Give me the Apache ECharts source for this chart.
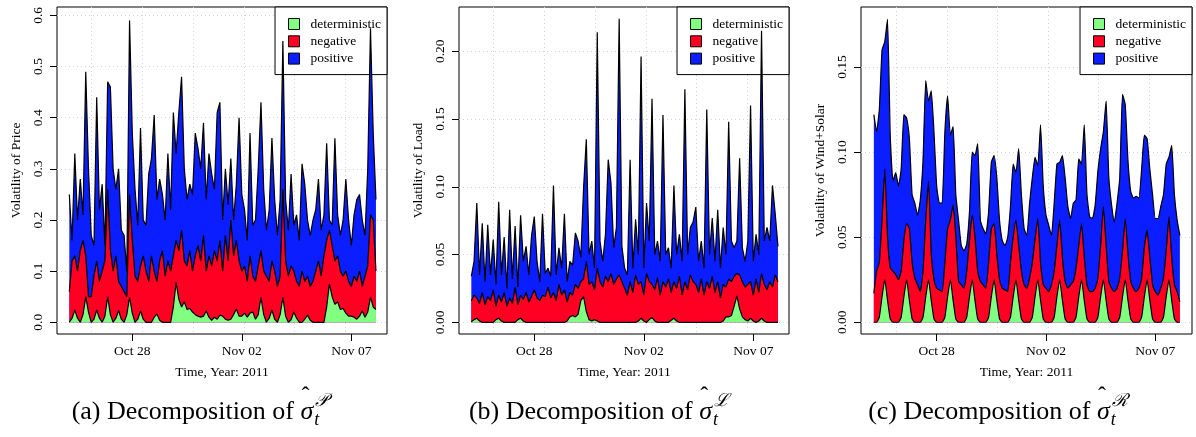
<!DOCTYPE html>
<html>
<head>
<meta charset="utf-8">
<script src="https://cdn.jsdelivr.net/npm/echarts@6/dist/echarts.min.js"></script>
<style>
html, body { margin: 0; padding: 0; background: #fff; }
#chart { width: 1196px; height: 437px; }
</style>
</head>
<body>
<div id="chart"></div>
<script>
// time axis: hours after Oct 28 2011 00:00, one sample every 3 hours
const startHour = -69
const stepHours = 3
const dateTicks = [0, 120, 240]
const dateLabels = ['Oct 28', 'Nov 02', 'Nov 07']
// dotted grid lines of R grid(): multiples of 200000 s
const gridHours = [-44.44, 11.11, 66.67, 122.22, 177.78, 233.33]

const layerNames = ['deterministic', 'negative', 'positive']
const layerColors = ['#80FF80', '#FF0022', '#0A1EFF']

// (a) price
const priceDet = [
  0, 0.008, 0.024, 0.008, 0, 0.015, 0.05, 0.02, 0, 0.006,
  0.024, 0.008, 0, 0.012, 0.05, 0.015, 0, 0.008, 0.023, 0.006,
  0, 0.015, 0.049, 0.018, 0, 0.006, 0.022, 0.006, 0, 0,
  0, 0.01, 0.016, 0.004, 0, 0, 0, 0, 0.03, 0.078,
  0.045, 0.03, 0.04, 0.025, 0.027, 0.02, 0.015, 0.012, 0.01, 0.012,
  0.022, 0.01, 0.004, 0.01, 0.006, 0.014, 0.012, 0.006, 0.004, 0.006,
  0.015, 0.026, 0.012, 0.012, 0.018, 0.01, 0.018, 0.02, 0.006, 0.015,
  0.049, 0.015, 0, 0.008, 0.024, 0.006, 0, 0.015, 0.049, 0.012,
  0, 0.005, 0.02, 0.008, 0, 0, 0.006, 0.014, 0.004, 0,
  0, 0, 0, 0, 0.03, 0.075, 0.05, 0.035, 0.04, 0.025,
  0.027, 0.018, 0.012, 0.012, 0.01, 0.006, 0.012, 0.022, 0.01, 0.02,
  0.049, 0.03, 0.025
]
const priceNeg = [
  0.06, 0.112, 0.106, 0.092, 0.14, 0.145, 0.08, 0.03, 0.05, 0.084,
  0.096, 0.072, 0.10, 0.108, 0.21, 0.125, 0.10, 0.122, 0.057, 0.064,
  0.06, 0.035, 0.201, 0.142, 0.09, 0.074, 0.088, 0.124, 0.10, 0.08,
  0.13, 0.09, 0.064, 0.116, 0.14, 0.09, 0.12, 0.10, 0.10, 0.082,
  0.095, 0.15, 0.08, 0.085, 0.113, 0.08, 0.115, 0.138, 0.11, 0.158,
  0.078, 0.12, 0.106, 0.13, 0.114, 0.146, 0.088, 0.164, 0.116, 0.194,
  0.115, 0.134, 0.108, 0.088, 0.092, 0.07, 0.112, 0.07, 0.074, 0.095,
  0.091, 0.085, 0.09, 0.072, 0.096, 0.094, 0.07, 0.075, 0.211, 0.108,
  0.09, 0.105, 0.08, 0.072, 0.07, 0.10, 0.074, 0.076, 0.066, 0.08,
  0.10, 0.12, 0.09, 0.13, 0.13, 0.105, 0.10, 0.085, 0.09, 0.075,
  0.063, 0.082, 0.068, 0.058, 0.08, 0.074, 0.088, 0.048, 0.08, 0.09,
  0.161, 0.17, 0.075
]
const pricePos = [
  0.19, 0.04, 0.20, 0.10, 0.14, 0.05, 0.36, 0.25, 0.12, 0.06,
  0.32, 0.14, 0.17, 0.03, 0.21, 0.32, 0.20, 0.13, 0.22, 0.11,
  0.11, 0.05, 0.34, 0.21, 0.17, 0.11, 0.27, 0.07, 0.09, 0.21,
  0.19, 0.305, 0.16, 0.16, 0.11, 0.11, 0.21, 0.12, 0.28, 0.17,
  0.27, 0.30, 0.18, 0.13, 0.13, 0.15, 0.24, 0.19, 0.18, 0.22,
  0.14, 0.20, 0.18, 0.12, 0.29, 0.27, 0.10, 0.13, 0.11, 0.12,
  0.07, 0.11, 0.28, 0.15, 0.11, 0.08, 0.24, 0.10, 0.12, 0.19,
  0.29, 0.16, 0.09, 0.14, 0.24, 0.14, 0.10, 0.15, 0.29, 0.12,
  0.09, 0.18, 0.09, 0.13, 0.09, 0.21, 0.19, 0.11, 0.10, 0.12,
  0.12, 0.16, 0.09, 0.08, 0.19, 0.02, 0.04, 0.24, 0.08, 0.07,
  0.11, 0.18, 0.12, 0.08, 0.12, 0.16, 0.15, 0.13, 0.08, 0.19,
  0.365, 0.17, 0.14
]

// (b) load
const loadDet = [
  0.0005, 0.002, 0.003, 0.001, 0, 0, 0, 0, 0, 0.002,
  0.003, 0.001, 0, 0, 0, 0, 0, 0.002, 0.003, 0.001,
  0, 0, 0, 0, 0, 0, 0, 0, 0, 0,
  0, 0, 0, 0, 0, 0.001, 0.004, 0.005, 0.004, 0.006,
  0.016, 0.019, 0.008, 0.002, 0.001, 0.002, 0.001, 0, 0, 0,
  0, 0, 0, 0, 0, 0, 0, 0, 0, 0,
  0, 0.001, 0.003, 0.001, 0, 0.002, 0.0035, 0.001, 0, 0,
  0, 0, 0, 0.0015, 0.003, 0.001, 0, 0, 0, 0,
  0, 0, 0, 0, 0, 0, 0, 0, 0, 0,
  0, 0, 0.001, 0.004, 0.004, 0.005, 0.012, 0.0195, 0.01, 0.004,
  0.002, 0.001, 0.003, 0.001, 0, 0.001, 0.003, 0.001, 0, 0,
  0, 0, 0
]
const loadNeg = [
  0.0155, 0.018, 0.015, 0.013, 0.022, 0.013, 0.019, 0.016, 0.024, 0.010,
  0.017, 0.014, 0.022, 0.012, 0.018, 0.014, 0.026, 0.011, 0.017, 0.016,
  0.022, 0.015, 0.019, 0.024, 0.018, 0.016, 0.02, 0.019, 0.026, 0.018,
  0.022, 0.016, 0.028, 0.02, 0.024, 0.014, 0.018, 0.015, 0.024, 0.019,
  0.014, 0.013, 0.037, 0.026, 0.029, 0.022, 0.039, 0.03, 0.026, 0.034,
  0.03, 0.036, 0.028, 0.032, 0.035, 0.03, 0.025, 0.02, 0.03, 0.022,
  0.035, 0.027, 0.027, 0.019, 0.036, 0.028, 0.0245, 0.023, 0.033, 0.02,
  0.03, 0.026, 0.032, 0.0205, 0.027, 0.024, 0.034, 0.02, 0.03, 0.024,
  0.035, 0.03, 0.028, 0.022, 0.032, 0.02, 0.03, 0.025, 0.034, 0.022,
  0.03, 0.018, 0.027, 0.022, 0.028, 0.025, 0.022, 0.0165, 0.025, 0.026,
  0.024, 0.027, 0.027, 0.019, 0.032, 0.021, 0.033, 0.027, 0.024, 0.03,
  0.026, 0.035, 0.03
]
const loadPos = [
  0.018, 0.025, 0.07, 0.021, 0.051, 0.017, 0.053, 0.019, 0.037, 0.016,
  0.069, 0.02, 0.041, 0.013, 0.065, 0.018, 0.045, 0.013, 0.059, 0.028,
  0.034, 0.02, 0.045, 0.054, 0.027, 0.014, 0.06, 0.017, 0.014, 0.016,
  0.079, 0.019, 0.027, 0.02, 0.056, 0.015, 0.023, 0.022, 0.038, 0.035,
  0.018, 0.067, 0.09, 0.022, 0.03, 0.016, 0.174, 0.03, 0.019, 0.031,
  0.09, 0.067, 0.027, 0.038, 0.189, 0.026, 0.015, 0.015, 0.09, 0.018,
  0.041, 0.022, 0.166, 0.02, 0.052, 0.03, 0.137, 0.026, 0.027, 0.025,
  0.123, 0.024, 0.023, 0.018, 0.071, 0.025, 0.031, 0.025, 0.142, 0.026,
  0.035, 0.044, 0.057, 0.023, 0.028, 0.02, 0.127, 0.025, 0.043, 0.023,
  0.053, 0.022, 0.042, 0.024, 0.116, 0.03, 0.021, 0.024, 0.086, 0.025,
  0.019, 0.032, 0.13, 0.025, 0.033, 0.028, 0.179, 0.032, 0.046, 0.03,
  0.075, 0.045, 0.026
]

// (c) wind + solar
const resDet = [
  0, 0, 0.003, 0.015, 0.025, 0.013, 0.002, 0,
  0, 0, 0.003, 0.015, 0.025, 0.013, 0.002, 0,
  0, 0, 0.003, 0.015, 0.025, 0.013, 0.002, 0,
  0, 0, 0.003, 0.015, 0.025, 0.013, 0.002, 0,
  0, 0, 0.003, 0.015, 0.025, 0.013, 0.002, 0,
  0, 0, 0.003, 0.015, 0.025, 0.013, 0.002, 0,
  0, 0, 0.003, 0.015, 0.025, 0.013, 0.002, 0,
  0, 0, 0.003, 0.015, 0.025, 0.013, 0.002, 0,
  0, 0, 0.003, 0.015, 0.025, 0.013, 0.002, 0,
  0, 0, 0.003, 0.015, 0.025, 0.013, 0.002, 0,
  0, 0, 0.003, 0.015, 0.025, 0.013, 0.002, 0,
  0, 0, 0.003, 0.015, 0.025, 0.013, 0.002, 0,
  0, 0, 0.003, 0.015, 0.025, 0.013, 0.002, 0,
  0, 0, 0.003, 0.015, 0.025, 0.013, 0.002, 0,
  0
]
const resNeg = [
  0.017, 0.03, 0.032, 0.045, 0.065, 0.037, 0.03, 0.03, 0.028, 0.025,
  0.027, 0.033, 0.033, 0.042, 0.033, 0.026, 0.022, 0.018, 0.027, 0.045,
  0.058, 0.027, 0.023, 0.02, 0.019, 0.018, 0.032, 0.04, 0.035, 0.056,
  0.048, 0.024, 0.022, 0.02, 0.027, 0.033, 0.038, 0.037, 0.028, 0.024,
  0.022, 0.02, 0.032, 0.04, 0.033, 0.027, 0.023, 0.02, 0.019, 0.018,
  0.032, 0.035, 0.035, 0.032, 0.028, 0.022, 0.02, 0.026, 0.032, 0.034,
  0.036, 0.022, 0.02, 0.02, 0.018, 0.022, 0.027, 0.03, 0.035, 0.025,
  0.022, 0.02, 0.022, 0.024, 0.029, 0.03, 0.033, 0.025, 0.02, 0.018,
  0.018, 0.02, 0.023, 0.03, 0.043, 0.032, 0.022, 0.02, 0.018, 0.02,
  0.023, 0.027, 0.036, 0.027, 0.022, 0.02, 0.018, 0.02, 0.023, 0.029,
  0.029, 0.025, 0.02, 0.018, 0.016, 0.02, 0.023, 0.027, 0.037, 0.025,
  0.02, 0.018, 0.012
]
const resPos = [
  0.105, 0.082, 0.09, 0.10, 0.075, 0.128, 0.078, 0.053, 0.06, 0.055,
  0.06, 0.074, 0.062, 0.053, 0.04, 0.044, 0.041, 0.054, 0.065, 0.082,
  0.047, 0.096, 0.087, 0.06, 0.051, 0.052, 0.077, 0.078, 0.05, 0.046,
  0.025, 0.036, 0.023, 0.022, 0.016, 0.017, 0.037, 0.048, 0.075, 0.036,
  0.033, 0.032, 0.03, 0.039, 0.04, 0.045, 0.035, 0.028, 0.026, 0.032,
  0.033, 0.043, 0.028, 0.057, 0.045, 0.033, 0.031, 0.044, 0.05, 0.048,
  0.031, 0.081, 0.058, 0.043, 0.039, 0.029, 0.04, 0.048, 0.034, 0.06,
  0.061, 0.048, 0.039, 0.046, 0.04, 0.051, 0.035, 0.078, 0.053, 0.044,
  0.043, 0.049, 0.063, 0.057, 0.044, 0.085, 0.061, 0.049, 0.041, 0.05,
  0.059, 0.092, 0.067, 0.055, 0.053, 0.053, 0.056, 0.053, 0.064, 0.066,
  0.054, 0.052, 0.053, 0.043, 0.045, 0.048, 0.049, 0.051, 0.035, 0.066,
  0.053, 0.042, 0.039
]

const hours = priceDet.map((_, i) => startHour + stepHours * i)

const panels = [
  { yName: 'Volatility of Price', layers: [priceDet, priceNeg, pricePos],
    yTicks: [0, 0.1, 0.2, 0.3, 0.4, 0.5, 0.6], digits: 1,
    left: 57, width: 330, xMin: -82.5, xMax: 279.1, yMin: -0.0229, yMax: 0.6164,
    tag: '(a)', sup: '\u{1D4AB}', center: 200, smooth: false },
  { yName: 'Volatility of Load', layers: [loadDet, loadNeg, loadPos],
    yTicks: [0, 0.05, 0.1, 0.15, 0.2], digits: 2,
    left: 459, width: 330, xMin: -82.5, xMax: 279.1, yMin: -0.0086, yMax: 0.2326,
    tag: '(b)', sup: '\u2112', center: 599, smooth: false },
  { yName: 'Volatility of Wind+Solar', layers: [resDet, resNeg, resPos],
    yTicks: [0, 0.05, 0.1, 0.15], digits: 2,
    left: 861, width: 331, xMin: -83.1, xMax: 280.3, yMin: -0.0069, yMax: 0.1853,
    tag: '(c)', sup: '\u211B', center: 998, smooth: 0.15 }
]

const serif = 'Liberation Serif'
const txt = { fontFamily: serif, fontSize: 13.5, color: '#000' }
const gridLine = { color: '#d3d3d3', type: [1, 3], width: 1 }

const ctx = document.createElement('canvas').getContext('2d')
function measure(s, font) {
  ctx.font = font
  return ctx.measureText(s).width
}
function label(x, y, text, font) {
  return { type: 'text', x: x, y: y, silent: true,
    style: { text: text, font: font, fill: '#000', textAlign: 'left', textVerticalAlign: 'middle', verticalAlign: 'middle' } }
}

const option = { animation: false, grid: [], xAxis: [], yAxis: [], series: [], legend: [], graphic: [] }

panels.forEach((p, k) => {
  option.grid.push({ left: p.left, top: 7, width: p.width, height: 327, show: true,
    borderColor: '#000', borderWidth: 1, backgroundColor: 'transparent' })

  option.xAxis.push({
    type: 'value', gridIndex: k, position: 'bottom', min: p.xMin, max: p.xMax,
    name: 'Time, Year: 2011', nameLocation: 'middle', nameGap: 31, nameTextStyle: txt,
    axisLine: { show: false, onZero: false },
    axisTick: { customValues: dateTicks, length: 7, lineStyle: { color: '#000' } },
    axisLabel: { customValues: dateTicks, margin: 10, ...txt,
      formatter: v => dateLabels[dateTicks.indexOf(v)] },
    splitLine: { show: false }
  })
  // hidden axis that only carries the vertical dotted lines
  option.xAxis.push({
    type: 'value', gridIndex: k, position: 'top', min: p.xMin, max: p.xMax,
    axisLine: { show: false, onZero: false },
    axisTick: { show: false, customValues: gridHours },
    axisLabel: { show: false },
    splitLine: { show: true, lineStyle: gridLine }
  })
  option.yAxis.push({
    type: 'value', gridIndex: k, position: 'left', min: p.yMin, max: p.yMax,
    name: p.yName, nameLocation: 'middle', nameGap: 34, nameRotate: 90, nameTextStyle: txt,
    axisLine: { show: false, onZero: false },
    axisTick: { customValues: p.yTicks, length: 7, lineStyle: { color: '#000' } },
    axisLabel: { customValues: p.yTicks, rotate: 90, margin: 12, ...txt,
      formatter: v => v.toFixed(p.digits) },
    splitLine: { show: true, lineStyle: gridLine }
  })

  // stacked layers: each area is drawn from zero up to its running total,
  // upper layers sit underneath so every boundary line stays visible
  let running = hours.map(() => 0)
  p.layers.forEach((vals, j) => {
    running = running.map((r, i) => r + vals[i])
    const top = running
    option.series.push({
      name: layerNames[j], type: 'line', xAxisIndex: 2 * k, yAxisIndex: k,
      z: 4 - j, smooth: p.smooth,
      data: hours.map((h, i) => [h, top[i]]),
      symbol: 'none', showSymbol: false,
      lineStyle: { color: '#000', width: 1.2 },
      areaStyle: { color: layerColors[j], opacity: 1, origin: 0 },
      itemStyle: { color: layerColors[j] },
      emphasis: { disabled: true }
    })
  })

  option.legend.push({
    orient: 'vertical', right: 1196 - (p.left + p.width), top: 7, z: 1,
    selectedMode: false, icon: 'rect',
    data: layerNames.map((n, j) => ({ name: n, icon: 'rect',
      itemStyle: { color: layerColors[j], borderColor: '#000', borderWidth: 1 } })),
    itemWidth: 11, itemHeight: 11, itemGap: 3.3,
    padding: [10, 6, 9, 13],
    backgroundColor: '#fff', borderColor: '#000', borderWidth: 1,
    textStyle: { ...txt, lineHeight: 14, padding: [0, 0, 0, 6] }
  })

  // caption below each panel
  const capFont = '26px "' + serif + '"'
  const capItalic = 'italic 26px "' + serif + '"'
  const smallFont = 'italic 18px "' + serif + '"'
  const mainText = p.tag + ' Decomposition of '
  const wMain = measure(mainText, capFont)
  const wSig = measure('\u03C3', capItalic)
  const wSup = Math.max(measure(p.sup, smallFont), measure('t', smallFont))
  const x0 = p.center - (wMain + wSig + wSup + 2) / 2
  const cy = 412
  option.graphic.push(
    label(x0, cy, mainText, capFont),
    label(x0 + wMain, cy, '\u03C3', capItalic),
    label(x0 + wMain + 1, cy - 15, '\u02C6', '24px "' + serif + '"'),
    label(x0 + wMain + wSig + 2, cy - 11, p.sup, smallFont),
    label(x0 + wMain + wSig + 1, cy + 8, 't', smallFont)
  )
})

const chart = echarts.init(document.getElementById('chart'))
chart.setOption(option)
</script>
</body>
</html>
